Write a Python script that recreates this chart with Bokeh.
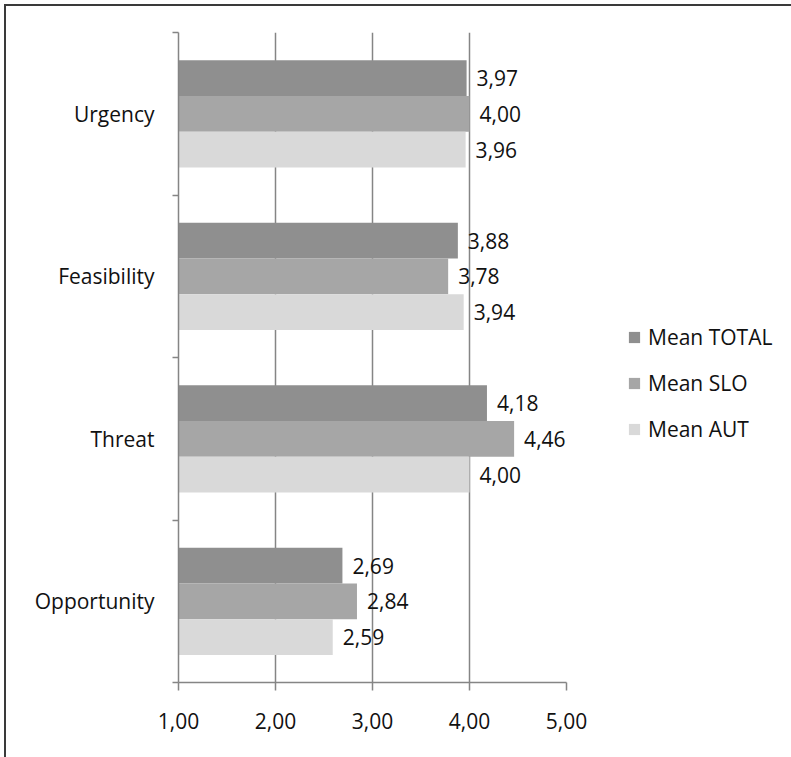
from bokeh.plotting import figure
from bokeh.models import ColumnDataSource, FixedTicker, Legend, LegendItem
from bokeh.core.properties import value
from bokeh.embed import file_html
from bokeh.resources import INLINE

# Categories, bottom to top
categories = ["Opportunity", "Threat", "Feasibility", "Urgency"]
series_names = ["Mean TOTAL", "Mean SLO", "Mean AUT"]
mean_total = [2.69, 4.18, 3.88, 3.97]
mean_slo = [2.84, 4.46, 3.78, 4.00]
mean_aut = [2.59, 4.00, 3.94, 3.96]
x_ticks = [1, 2, 3, 4, 5]
x_tick_labels = ["1,00", "2,00", "3,00", "4,00", "5,00"]

FONT = "Open Sans"
FS = "21px"
TXT = "#111111"
GRID = "#858585"
colors = ["#8f8f8f", "#a6a6a6", "#d9d9d9"]
bar_h = 0.22
offsets = [bar_h, 0.0, -bar_h]

p = figure(
    x_range=(1, 5), y_range=(0, 4),
    frame_width=388, frame_height=650,
    min_border_left=172, min_border_right=225,
    min_border_top=26, min_border_bottom=75,
    output_backend="svg", toolbar_location=None,
)
p.styles = {
    "margin-left": "4px", "margin-top": "4px",
    "border-top": "2px solid #3a3a3a", "border-left": "2px solid #3a3a3a",
}
p.outline_line_color = None
p.background_fill_color = "white"
p.border_fill_color = "white"

def fmt(v):
    return f"{v:.2f}".replace(".", ",")

items = []
for name, vals, col, off in zip(series_names, [mean_total, mean_slo, mean_aut], colors, offsets):
    src = ColumnDataSource(dict(
        y=[i + 0.5 + off for i in range(len(categories))],
        right=vals,
        label=[fmt(v) for v in vals],
    ))
    r = p.hbar(y="y", left=1, right="right", height=bar_h, source=src,
               fill_color=col, line_color=None)
    p.text(x="right", y="y", text="label", source=src, x_offset=10,
           text_font=value(FONT), text_font_size=FS, text_color=TXT,
           text_baseline="middle", text_align="left")
    items.append(LegendItem(label=name, renderers=[r]))

# x axis
xa = p.xaxis[0]
xa.ticker = FixedTicker(ticks=x_ticks)
xa.major_label_overrides = {t: l for t, l in zip(x_ticks, x_tick_labels)}
xa.major_tick_out = 8
xa.major_tick_in = 0
xa.minor_tick_line_color = None
xa.axis_line_color = GRID
xa.axis_line_width = 1.5
xa.major_tick_line_color = GRID
xa.major_tick_line_width = 1.5
xa.major_label_standoff = 22
xa.major_label_text_font = FONT
xa.major_label_text_font_size = FS
xa.major_label_text_color = TXT

# y axis: labels at category centres, ticks at category boundaries
ya = p.yaxis[0]
ya.ticker = FixedTicker(ticks=[i + 0.5 for i in range(len(categories))],
                        minor_ticks=list(range(len(categories) + 1)))
ya.major_label_overrides = {i + 0.5: c for i, c in enumerate(categories)}
ya.major_tick_out = 0
ya.major_tick_in = 0
ya.major_tick_line_color = None
ya.minor_tick_out = 6
ya.minor_tick_in = 0
ya.minor_tick_line_color = GRID
ya.minor_tick_line_width = 1.5
ya.axis_line_color = GRID
ya.axis_line_width = 1.5
ya.major_label_standoff = 18
ya.major_label_text_font = FONT
ya.major_label_text_font_size = FS
ya.major_label_text_color = TXT

p.xgrid.grid_line_color = GRID
p.xgrid.grid_line_width = 1.5
p.ygrid.grid_line_color = None

legend = Legend(items=items, location=(61, 239), padding=0, margin=0, spacing=18,
                glyph_width=14, glyph_height=14, label_standoff=7,
                label_height=20, label_text_font=FONT, label_text_font_size=FS,
                label_text_color=TXT, border_line_color=None,
                background_fill_alpha=0)
p.add_layout(legend, "right")

open("out.html", "w").write(file_html(p, INLINE))
